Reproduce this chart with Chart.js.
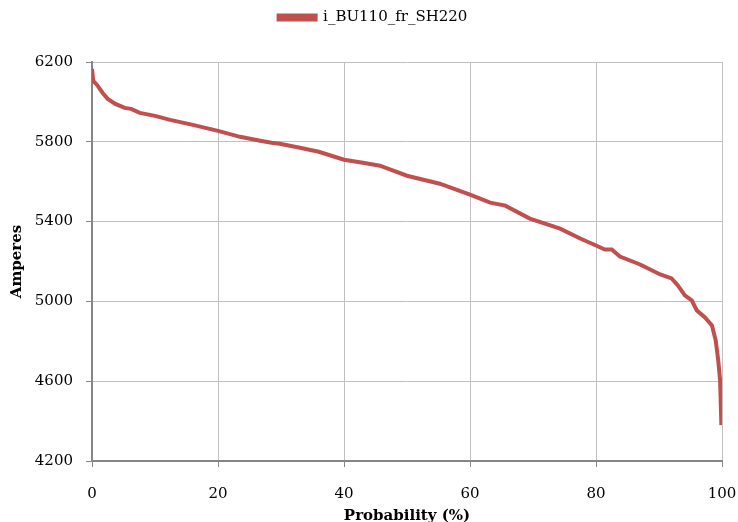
<!DOCTYPE html>
<html>
<head>
<meta charset="utf-8">
<script src="https://cdn.jsdelivr.net/npm/chart.js@4"></script>
<style>
  html, body { margin: 0; padding: 0; background: #fff; }
  #wrap { width: 738px; height: 522px; }
</style>
</head>
<body>
<div id="wrap"><canvas id="c"></canvas></div>
<script>
const seriesName = 'i_BU110_fr_SH220';
const probability = [0, 0.2, 0.8, 1.7, 2.5, 3.7, 5.2, 6.2, 7.6, 10, 12.4, 16, 20, 23.5, 26.7, 28.5, 29.8, 33,
  36, 40, 43, 45.7, 50, 55.2, 60, 63.2, 65.6, 69.5, 74.3, 77.5, 80, 81.4, 82.5, 83.8, 87, 90.2, 92, 93,
  94.1, 95.2, 96, 97.3, 98.4, 99, 99.4, 99.7, 99.9];
const amperes = [6165, 6105, 6085, 6045, 6015, 5990, 5970, 5965, 5945, 5930, 5910, 5885, 5855, 5825, 5805, 5795, 5790, 5770,
  5750, 5710, 5695, 5680, 5630, 5590, 5535, 5495, 5480, 5415, 5365, 5315, 5280, 5260, 5260, 5225, 5185, 5135, 5115, 5080,
  5030, 5005, 4955, 4920, 4880, 4805, 4705, 4605, 4380];

const points = probability.map((p, i) => ({ x: p, y: amperes[i] }));
const serif = 'DejaVu Serif';

// extra space under the legend
const legendGap = {
  id: 'legendGap',
  beforeInit(chart) {
    const fit = chart.legend.fit;
    chart.legend.fit = function () {
      fit.call(this);
      this.height += 27;
    };
  }
};

new Chart(document.getElementById('c'), {
  type: 'line',
  data: {
    datasets: [{
      label: seriesName,
      data: points,
      borderColor: '#c0504d',
      backgroundColor: '#c0504d',
      borderWidth: 4,
      pointRadius: 0,
      tension: 0
    }]
  },
  options: {
    responsive: true,
    maintainAspectRatio: false,
    animation: false,
    layout: { padding: { top: 0, right: 0, left: 8, bottom: 0 } },
    plugins: {
      legend: {
        position: 'top',
        labels: {
          boxWidth: 37,
          boxHeight: 4,
          padding: 10,
          color: '#000',
          font: { family: serif, size: 15 }
        }
      },
      tooltip: { enabled: false }
    },
    scales: {
      x: {
        type: 'linear',
        min: 0,
        max: 100,
        ticks: { stepSize: 20, color: '#000', font: { family: serif, size: 15 }, padding: 18 },
        grid: { color: '#c0c0c0', tickColor: '#868686', tickLength: 6 },
        border: { color: '#868686', width: 2 },
        title: { display: true, text: 'Probability (%)', color: '#000', font: { family: serif, size: 15, weight: 'bold' }, padding: { top: 0, bottom: -3 } },
        afterFit: s => { s.height = 61; s.paddingRight = 16; }
      },
      y: {
        min: 4200,
        max: 6200,
        ticks: { stepSize: 400, color: '#000', font: { family: serif, size: 15 }, padding: 13, callback: v => String(v) },
        grid: { color: '#c0c0c0', tickColor: '#868686', tickLength: 6 },
        border: { color: '#868686', width: 2 },
        title: { display: true, text: 'Amperes', color: '#000', font: { family: serif, size: 15, weight: 'bold' }, padding: 0 },
        afterFit: s => { s.width = 84; }
      }
    }
  },
  plugins: [legendGap]
});
</script>
</body>
</html>
